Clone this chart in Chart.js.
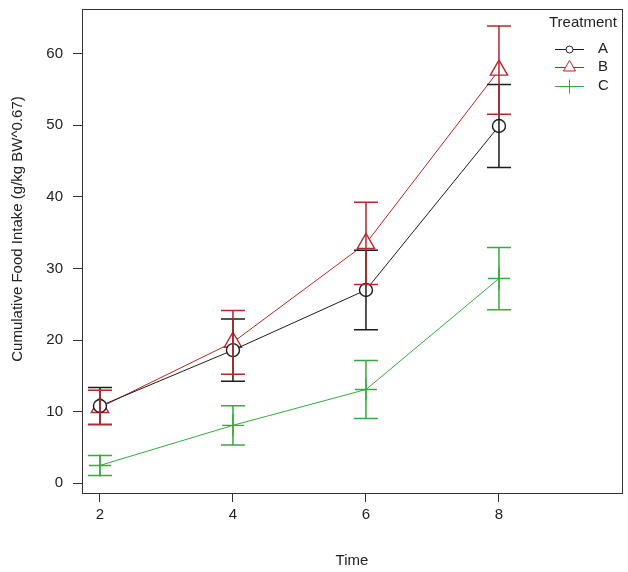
<!DOCTYPE html>
<html>
<head>
<meta charset="utf-8">
<script src="https://cdn.jsdelivr.net/npm/chart.js@4/dist/chart.umd.min.js"></script>
<style>
html,body{margin:0;padding:0;background:#fff;}
#wrap{width:628px;height:572px;position:relative;}
</style>
</head>
<body>
<div id="wrap"><canvas id="c" width="628" height="572"></canvas></div>
<script>
// ---- data ----
const times = [2, 4, 6, 8];
const treatments = ['A', 'B', 'C'];
const meanA = [10.8, 18.6, 27.0, 49.9];
const errA  = [2.6, 4.35, 5.55, 5.8];
const meanB = [10.6, 19.7, 33.5, 57.7];
const errB  = [2.4, 4.45, 5.75, 6.15];
const meanC = [2.5, 8.1, 13.1, 28.6];
const errC  = [1.4, 2.75, 4.05, 4.35];
const xTicks = [2, 4, 6, 8];
const yTicks = [0, 10, 20, 30, 40, 50, 60];

const colA = '#1c1c1c', colB = '#b8262e', colC = '#35aa3e';
const FONT = '"Liberation Sans", Arial, sans-serif';

function mk(label, means, errs, color, style, radius) {
  return {
    label: label,
    data: times.map((t, i) => ({x: t, y: means[i]})),
    err: errs,
    borderColor: color,
    backgroundColor: color,
    borderWidth: 1,
    pointStyle: style,
    pointRadius: radius,
    pointHoverRadius: radius,
    pointBorderColor: color,
    pointBackgroundColor: style === 'cross' ? color : '#ffffff',
    pointBorderWidth: 1.4,
    tension: 0
  };
}

const errorBars = {
  id: 'errorBars',
  afterDatasetsDraw(chart) {
    const ctx = chart.ctx, xs = chart.scales.x, ys = chart.scales.y;
    chart.data.datasets.forEach(ds => {
      ctx.save();
      ctx.strokeStyle = ds.borderColor;
      ctx.lineWidth = 1.5;
      ds.data.forEach((p, i) => {
        const px = xs.getPixelForValue(p.x);
        const hi = ys.getPixelForValue(p.y + ds.err[i]);
        const lo = ys.getPixelForValue(p.y - ds.err[i]);
        ctx.beginPath();
        ctx.moveTo(px, hi); ctx.lineTo(px, lo);
        ctx.moveTo(px - 12, hi); ctx.lineTo(px + 12, hi);
        ctx.moveTo(px - 12, lo); ctx.lineTo(px + 12, lo);
        ctx.stroke();
      });
      ctx.restore();
    });
  }
};

const decor = {
  id: 'decor',
  afterDraw(chart) {
    const ctx = chart.ctx, a = chart.chartArea;
    ctx.save();
    // frame
    ctx.strokeStyle = '#333';
    ctx.lineWidth = 1;
    ctx.strokeRect(Math.round(a.left) + 0.5, Math.round(a.top) + 0.5,
                   Math.round(a.right - a.left), Math.round(a.bottom - a.top));
    // y axis title
    ctx.fillStyle = '#222';
    ctx.font = '15px ' + FONT;
    ctx.textAlign = 'center';
    ctx.textBaseline = 'middle';
    ctx.translate(18, 229);
    ctx.rotate(-Math.PI / 2);
    ctx.fillText('Cumulative Food Intake (g/kg BW^0.67)', 0, 0);
    ctx.restore();

    // legend
    ctx.save();
    ctx.font = '15px ' + FONT;
    ctx.textAlign = 'left';
    ctx.textBaseline = 'middle';
    ctx.fillStyle = '#222';
    ctx.fillText('Treatment', 549, 23);
    const ys = [49, 67, 86];
    const legR = [3.5, 7, 7];
    chart.data.datasets.forEach((ds, i) => {
      const y = ys[i];
      ctx.strokeStyle = ds.borderColor;
      ctx.lineWidth = 1;
      ctx.beginPath(); ctx.moveTo(555, y + 0.5); ctx.lineTo(584, y + 0.5); ctx.stroke();
      ctx.fillStyle = '#ffffff';
      Chart.helpers.drawPoint(ctx, {
        pointStyle: ds.pointStyle, radius: legR[i], borderWidth: 1.2, rotation: 0
      }, 569.5, y + 0.5);
      ctx.fillStyle = '#222';
      ctx.fillText(ds.label, 598, y);
    });
    ctx.restore();
  }
};

const chart = new Chart(document.getElementById('c'), {
  type: 'line',
  data: {
    datasets: [
      mk(treatments[0], meanA, errA, colA, 'circle', 6.5),
      mk(treatments[1], meanB, errB, colB, 'triangle', 10),
      mk(treatments[2], meanC, errC, colC, 'cross', 11)
    ]
  },
  options: {
    responsive: false,
    animation: false,
    layout: {autoPadding: false, padding: {left: 0, top: 9, right: 6, bottom: 0}},
    plugins: {legend: {display: false}, tooltip: {enabled: false}, title: {display: false}},
    scales: {
      x: {
        type: 'linear',
        min: 1.73, max: 9.85,
        afterBuildTicks: s => { s.ticks = xTicks.map(v => ({value: v})); },
        afterFit: s => { s.height = 79; s.paddingLeft = 0; s.paddingRight = 0; },
        border: {display: false},
        grid: {display: true, drawOnChartArea: false, drawTicks: true, tickLength: 9, color: '#333', lineWidth: 1},
        ticks: {color: '#222', font: {family: FONT, size: 15}, padding: 4, maxRotation: 0},
        title: {display: true, text: 'Time', color: '#222', font: {family: FONT, size: 15}, padding: {top: 4, bottom: 2}}
      },
      y: {
        type: 'linear',
        min: -1.35, max: 66.24,
        afterBuildTicks: s => { s.ticks = yTicks.map(v => ({value: v})); },
        afterFit: s => { s.width = 82; s.paddingTop = 0; s.paddingBottom = 0; },
        border: {display: false},
        grid: {display: true, drawOnChartArea: false, drawTicks: true, tickLength: 9, color: '#333', lineWidth: 1},
        ticks: {color: '#222', font: {family: FONT, size: 15}, padding: 10}
      }
    }
  },
  plugins: [errorBars, decor]
});
</script>
</body>
</html>
